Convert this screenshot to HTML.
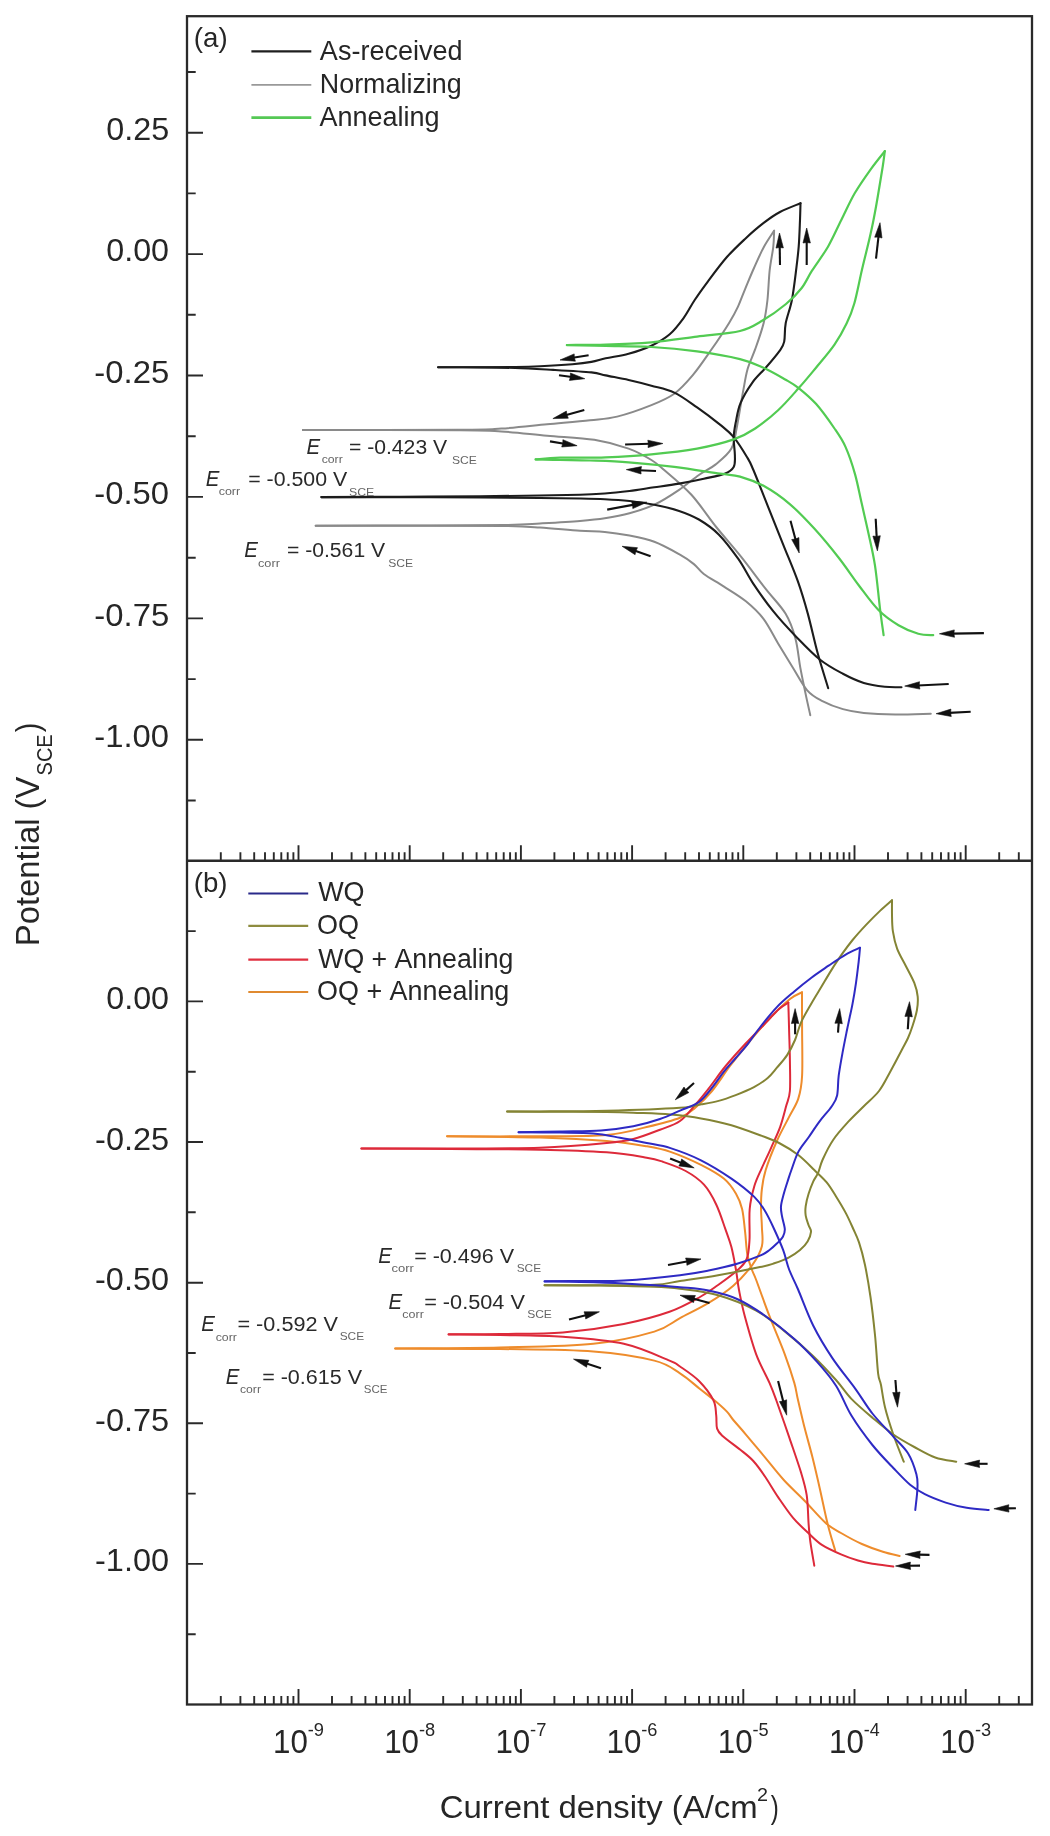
<!DOCTYPE html><html><head><meta charset="utf-8"><style>html,body{margin:0;padding:0;background:#fff;width:1050px;height:1836px;overflow:hidden}svg{display:block;will-change:transform}text{font-family:"Liberation Sans",sans-serif;font-kerning:none}</style></head><body>
<svg width="1050" height="1836" viewBox="0 0 1050 1836">
<path d="M930.8 713.7C924.9 713.8 906.4 714.5 895.2 714.4C884.0 714.3 872.5 713.8 863.8 712.9C855.1 712.0 849.9 711.1 842.9 709.1C835.9 707.1 827.8 703.9 821.9 700.8C816.0 697.7 812.1 695.9 807.2 690.3C802.3 684.7 797.5 675.0 792.6 667.2C787.8 659.4 783.0 651.5 778.1 643.4C773.2 635.3 768.7 625.6 763.3 618.6C757.9 611.6 752.5 606.7 745.9 601.3C739.3 595.9 730.6 590.9 723.6 586.4C716.6 581.9 708.8 577.7 703.8 574.0C698.8 570.3 698.0 567.4 693.9 564.1C689.8 560.8 685.7 557.9 679.1 554.2C672.5 550.5 662.6 544.9 654.3 541.8C646.0 538.7 637.8 537.2 629.5 535.6C621.2 534.0 613.0 532.7 604.8 531.9C596.5 531.1 590.8 531.4 580.0 530.7C569.2 530.0 552.6 528.3 540.0 527.5C527.4 526.7 524.3 526.3 504.3 526.0C484.3 525.7 451.4 525.8 420.0 525.8C388.6 525.8 333.1 525.7 315.7 525.7" stroke="#8a8a8a" stroke-width="2.0" fill="none" stroke-linejoin="round" stroke-linecap="round"/><path d="M315.7 525.7C333.1 525.7 388.6 525.6 420.0 525.5C451.4 525.4 484.3 525.3 504.3 525.0C524.3 524.7 527.4 524.2 540.0 523.5C552.6 522.8 569.2 521.9 580.0 521.0C590.8 520.1 596.5 519.6 604.8 518.3C613.0 517.0 621.2 515.6 629.5 513.3C637.8 511.0 646.0 508.6 654.3 504.7C662.6 500.8 671.7 494.8 679.1 489.8C686.5 484.9 692.9 479.2 698.9 475.0C704.9 470.8 710.0 469.0 715.4 464.6C720.8 460.2 727.8 455.1 731.4 448.6C735.0 442.1 735.2 435.1 737.1 425.7C739.0 416.2 741.2 401.3 743.0 391.9C744.8 382.4 745.6 376.1 747.6 369.0C749.6 361.9 752.5 356.8 755.2 349.2C757.9 341.6 761.6 331.4 763.6 323.3C765.6 315.2 766.4 309.4 767.4 300.5C768.4 291.6 768.7 279.0 769.7 270.0C770.7 261.0 772.6 253.2 773.3 246.7C774.0 240.1 774.0 233.4 774.1 230.7" stroke="#8a8a8a" stroke-width="2.0" fill="none" stroke-linejoin="round" stroke-linecap="round"/><path d="M774.1 230.7C772.4 233.4 767.4 240.5 764.0 246.7C760.6 252.9 757.2 260.9 754.0 268.0C750.8 275.1 747.7 282.9 745.0 289.3C742.3 295.7 740.6 301.0 738.0 306.6C735.4 312.2 733.6 315.6 729.1 322.9C724.6 330.2 717.0 341.6 710.9 350.3C704.8 359.1 698.7 368.2 692.6 375.4C686.5 382.6 681.2 388.8 674.3 393.7C667.4 398.6 660.9 401.3 651.4 405.1C641.9 408.9 627.3 414.1 617.1 416.6C606.9 419.1 601.7 419.0 590.0 420.3C578.3 421.6 561.9 422.9 547.1 424.3C532.3 425.7 515.9 427.7 501.4 428.6C486.9 429.5 493.1 429.6 460.0 429.8C426.9 430.0 329.1 430.0 302.9 430.0" stroke="#8a8a8a" stroke-width="2.0" fill="none" stroke-linejoin="round" stroke-linecap="round"/><path d="M302.9 430.0C329.1 430.0 426.9 430.0 460.0 430.2C493.1 430.4 486.9 430.5 501.4 431.4C515.9 432.3 531.6 434.3 547.1 435.7C562.6 437.1 580.7 437.6 594.3 439.8C607.9 442.0 619.1 445.2 628.6 448.6C638.1 452.0 645.5 456.4 651.4 460.0C657.3 463.6 657.5 464.2 664.2 470.0C670.9 475.8 682.7 485.3 691.4 494.8C700.1 504.3 707.9 516.7 716.2 527.0C724.5 537.3 732.8 546.4 741.0 556.7C749.2 567.0 758.3 579.4 765.7 588.9C773.1 598.4 780.5 605.4 785.5 613.6C790.5 621.9 792.9 629.3 795.4 638.4C797.9 647.5 798.7 659.0 800.4 668.1C802.1 677.2 803.8 685.0 805.4 692.9C807.0 700.8 809.5 711.5 810.3 715.2" stroke="#8a8a8a" stroke-width="2.0" fill="none" stroke-linejoin="round" stroke-linecap="round"/>
<path d="M901.5 687.2C898.7 687.1 891.1 687.5 884.8 686.8C878.5 686.1 870.8 685.2 863.8 683.0C856.8 680.8 850.2 677.7 842.9 673.8C835.6 669.9 827.7 665.8 819.8 659.5C811.9 653.2 803.2 643.9 795.4 635.9C787.6 627.9 780.2 619.9 773.2 611.2C766.2 602.5 759.2 592.6 753.4 583.9C747.6 575.2 744.3 567.5 738.5 559.2C732.7 551.0 725.3 541.0 718.7 534.4C712.1 527.8 705.5 523.4 698.9 519.5C692.3 515.6 686.5 513.4 679.1 510.9C671.7 508.4 662.6 506.3 654.3 504.7C646.0 503.1 637.8 501.9 629.5 501.0C621.2 500.1 613.0 499.6 604.8 499.2C596.5 498.8 590.8 498.7 580.0 498.5C569.2 498.3 556.7 498.2 540.0 498.0C523.3 497.8 503.3 497.6 480.0 497.5C456.7 497.4 426.4 497.3 400.0 497.2C373.6 497.1 334.5 497.1 321.4 497.1" stroke="#1c1c1c" stroke-width="2.1" fill="none" stroke-linejoin="round" stroke-linecap="round"/><path d="M321.4 497.1C334.5 497.1 373.6 496.9 400.0 496.8C426.4 496.7 456.7 496.5 480.0 496.3C503.3 496.1 523.3 495.8 540.0 495.5C556.7 495.2 569.2 495.1 580.0 494.8C590.8 494.5 596.5 494.1 604.8 493.5C613.0 492.9 621.2 492.0 629.5 491.0C637.8 490.0 646.0 488.5 654.3 487.3C662.6 486.1 670.9 485.0 679.1 483.6C687.4 482.2 696.2 480.4 703.8 478.7C711.4 477.0 719.6 475.7 724.6 473.7C729.6 471.7 732.0 469.9 733.7 466.9C735.4 463.8 734.9 460.4 734.9 455.4C734.9 450.4 733.5 442.8 733.7 437.1C733.9 431.4 734.9 426.8 736.0 421.1C737.1 415.4 737.9 409.3 740.6 402.9C743.3 396.5 748.0 388.7 752.2 382.8C756.4 376.9 761.3 372.8 765.9 367.5C770.5 362.2 776.5 355.1 779.6 350.8C782.7 346.5 783.2 346.2 784.2 341.6C785.2 337.0 784.4 330.2 785.7 323.3C787.0 316.4 790.1 309.2 791.8 300.5C793.5 291.8 794.9 280.0 796.0 271.0C797.1 262.0 798.0 255.2 798.7 246.7C799.4 238.2 799.7 227.2 800.0 220.0C800.3 212.8 800.4 206.0 800.5 203.2" stroke="#1c1c1c" stroke-width="2.1" fill="none" stroke-linejoin="round" stroke-linecap="round"/><path d="M800.5 203.2C797.1 204.7 786.1 208.8 780.0 212.0C773.9 215.2 769.8 218.2 764.0 222.7C758.2 227.1 751.5 232.9 745.3 238.7C739.1 244.5 732.9 250.2 726.7 257.3C720.5 264.4 713.3 274.2 708.0 281.3C702.7 288.4 698.8 293.8 694.7 300.0C690.6 306.2 687.6 312.6 683.4 318.3C679.2 324.0 675.0 329.7 669.7 334.3C664.4 338.9 658.2 342.5 651.4 345.7C644.5 348.9 636.2 351.6 628.6 353.7C621.0 355.8 611.9 356.9 605.7 358.3C599.5 359.7 597.0 360.9 591.4 361.9C585.8 362.9 581.0 363.5 572.4 364.2C563.8 364.9 549.5 365.8 540.0 366.3C530.5 366.8 525.2 366.9 515.2 367.0C505.2 367.1 492.9 367.2 480.0 367.2C467.1 367.2 445.1 367.2 438.1 367.2" stroke="#1c1c1c" stroke-width="2.1" fill="none" stroke-linejoin="round" stroke-linecap="round"/><path d="M438.1 367.2C445.1 367.2 467.1 367.3 480.0 367.4C492.9 367.5 503.0 367.6 515.2 368.0C527.4 368.4 540.6 369.2 553.3 369.9C566.0 370.6 582.7 371.5 591.4 372.4C600.1 373.3 599.5 374.1 605.7 375.4C611.9 376.7 621.0 378.3 628.6 380.0C636.2 381.7 643.8 383.6 651.4 385.7C659.0 387.8 666.7 389.0 674.3 392.6C681.9 396.2 689.5 402.1 697.1 407.4C704.7 412.7 713.9 419.7 720.0 424.6C726.1 429.6 729.1 431.6 733.7 437.1C738.3 442.6 744.1 452.2 747.4 457.7C750.7 463.2 749.9 461.8 753.4 470.0C756.9 478.2 763.2 494.7 768.2 507.1C773.2 519.5 778.2 531.9 783.1 544.3C788.0 556.7 793.8 569.8 797.9 581.4C802.0 593.0 804.5 601.6 807.8 613.6C811.1 625.6 814.3 640.9 817.7 653.3C821.1 665.7 826.5 682.4 828.2 688.2" stroke="#1c1c1c" stroke-width="2.1" fill="none" stroke-linejoin="round" stroke-linecap="round"/>
<path d="M933.2 635.1C930.7 634.9 924.1 635.4 918.3 633.8C912.5 632.1 905.1 629.1 898.5 625.2C891.9 621.3 885.3 616.9 878.7 610.3C872.1 603.7 865.5 594.2 858.9 585.5C852.3 576.8 846.5 567.8 839.1 558.3C831.7 548.8 822.6 537.7 814.3 528.6C806.0 519.5 797.8 510.8 789.5 503.8C781.2 496.8 773.0 491.0 764.8 486.5C756.5 482.0 747.5 478.7 740.0 476.6C732.5 474.5 731.0 475.3 720.0 473.7C709.0 472.1 689.5 468.8 674.3 466.9C659.1 465.0 642.6 463.4 628.6 462.3C614.6 461.2 601.4 460.9 590.0 460.5C578.6 460.1 569.0 460.2 560.0 460.0C551.0 459.8 539.8 459.5 535.7 459.4" stroke="#52cb52" stroke-width="2.2" fill="none" stroke-linejoin="round" stroke-linecap="round"/><path d="M535.7 459.4C539.8 459.1 548.3 458.0 560.0 457.7C571.7 457.4 590.5 457.9 605.7 457.3C620.9 456.7 636.2 455.8 651.4 454.3C666.6 452.9 683.4 451.1 697.1 448.6C710.8 446.1 724.0 442.8 733.7 439.4C743.4 436.0 747.8 433.4 755.2 428.5C762.6 423.6 770.9 416.9 778.1 410.2C785.4 403.5 792.4 395.2 798.7 388.1C805.1 381.0 810.2 374.7 816.2 367.5C822.2 360.3 829.4 352.1 834.5 344.7C839.6 337.3 843.4 330.2 846.7 323.3C850.0 316.4 851.8 312.4 854.3 303.5C856.8 294.6 859.2 281.7 861.9 270.0C864.6 258.3 868.4 243.9 870.7 233.3C873.1 222.8 874.0 217.8 876.0 206.7C878.0 195.6 881.2 175.9 882.7 166.7C884.2 157.4 884.4 153.8 884.8 151.2" stroke="#52cb52" stroke-width="2.2" fill="none" stroke-linejoin="round" stroke-linecap="round"/><path d="M884.8 151.2C882.4 154.2 875.7 162.3 870.7 169.3C865.7 176.3 859.6 184.9 854.7 193.3C849.8 201.8 845.8 211.1 841.3 220.0C836.8 228.9 832.9 238.2 828.0 246.7C823.1 255.1 816.4 263.8 812.0 270.7C807.6 277.6 805.8 282.8 801.5 288.3C797.2 293.9 792.4 298.7 786.0 304.0C779.6 309.3 770.6 315.8 762.9 320.3C755.2 324.8 751.0 328.3 740.0 331.0C729.0 333.7 711.9 334.7 697.1 336.6C682.3 338.5 666.6 341.0 651.4 342.3C636.2 343.6 619.8 344.2 605.7 344.6C591.6 345.1 573.4 344.9 566.9 345.0" stroke="#52cb52" stroke-width="2.2" fill="none" stroke-linejoin="round" stroke-linecap="round"/><path d="M566.9 345.2C573.4 345.3 591.6 345.6 605.7 345.9C619.8 346.2 636.2 346.1 651.4 347.0C666.6 347.9 682.3 349.4 697.1 351.4C711.9 353.4 729.0 356.4 740.0 359.1C751.0 361.8 755.3 364.1 762.9 367.5C770.5 370.9 779.7 376.3 785.7 379.7C791.7 383.1 793.6 384.0 798.7 388.1C803.8 392.2 810.2 397.4 816.2 404.1C822.2 410.8 829.6 421.4 834.5 428.5C839.4 435.6 842.1 439.3 845.5 446.9C848.9 454.5 852.3 464.6 855.0 474.1C857.7 483.6 859.5 493.9 861.8 503.8C864.0 513.7 866.3 523.2 868.5 533.5C870.7 543.8 873.1 553.3 875.0 565.7C876.9 578.1 878.5 596.2 879.9 607.8C881.3 619.4 883.0 630.5 883.6 635.1" stroke="#52cb52" stroke-width="2.2" fill="none" stroke-linejoin="round" stroke-linecap="round"/>
<path d="M899.6 1556.0C896.8 1555.3 889.2 1553.8 882.9 1551.8C876.6 1549.8 868.9 1547.1 861.9 1544.0C854.9 1540.9 847.0 1536.5 841.0 1533.0C835.0 1529.5 831.7 1528.3 825.7 1523.0C819.7 1517.7 811.8 1508.2 804.8 1501.0C797.8 1493.8 790.5 1487.3 783.8 1480.0C777.1 1472.7 771.1 1464.7 764.8 1457.1C758.4 1449.5 751.0 1440.5 745.7 1434.3C740.5 1428.1 736.5 1423.8 733.3 1420.0C730.1 1416.2 729.9 1414.7 726.7 1411.4C723.5 1408.1 718.5 1403.7 714.0 1400.0C709.5 1396.3 705.7 1393.5 700.0 1389.0C694.3 1384.5 687.6 1378.0 680.0 1373.3C672.4 1368.6 668.8 1364.2 654.3 1360.6C639.8 1356.9 619.0 1353.3 593.3 1351.4C567.6 1349.5 533.0 1349.5 500.0 1349.0C467.0 1348.5 412.7 1348.7 395.2 1348.6" stroke="#ee8c2c" stroke-width="2.0" fill="none" stroke-linejoin="round" stroke-linecap="round"/><path d="M395.2 1348.4C412.7 1348.2 467.0 1348.3 500.0 1347.5C533.0 1346.7 567.6 1346.5 593.3 1343.8C619.0 1341.1 639.8 1335.9 654.3 1331.6C668.8 1327.3 671.0 1322.9 680.0 1318.1C689.0 1313.3 699.7 1308.3 708.6 1302.9C717.5 1297.5 726.0 1292.1 733.3 1285.7C740.6 1279.3 747.6 1271.4 752.4 1264.8C757.2 1258.2 760.3 1252.5 761.9 1246.2C763.5 1239.9 762.0 1233.4 761.9 1227.1C761.8 1220.8 761.0 1214.4 761.0 1208.1C761.0 1201.8 761.1 1195.3 761.9 1189.0C762.7 1182.7 763.2 1178.1 765.7 1170.0C768.2 1161.9 773.2 1149.3 777.1 1140.5C781.0 1131.7 785.6 1123.9 789.1 1116.9C792.6 1109.9 796.1 1105.5 798.3 1098.6C800.5 1091.7 801.5 1087.1 802.1 1075.7C802.7 1064.3 802.1 1041.0 802.1 1030.0C802.1 1019.0 802.0 1016.3 802.0 1010.0C802.0 1003.7 802.0 995.2 802.0 992.3" stroke="#ee8c2c" stroke-width="2.0" fill="none" stroke-linejoin="round" stroke-linecap="round"/><path d="M802.0 992.3C800.0 993.4 795.3 994.7 790.0 999.0C784.7 1003.3 776.7 1011.0 770.0 1018.0C763.3 1025.0 756.7 1033.0 750.0 1041.0C743.3 1049.0 736.3 1057.7 730.0 1066.0C723.7 1074.3 717.8 1084.0 712.0 1091.0C706.2 1098.0 700.3 1103.5 695.0 1108.0C689.7 1112.5 688.0 1114.5 680.0 1117.7C672.0 1120.9 658.9 1124.1 646.7 1127.0C634.5 1129.9 624.5 1133.5 606.7 1135.0C588.9 1136.5 566.6 1136.1 540.0 1136.3C513.4 1136.5 462.6 1136.3 447.1 1136.3" stroke="#ee8c2c" stroke-width="2.0" fill="none" stroke-linejoin="round" stroke-linecap="round"/><path d="M447.1 1136.3C462.6 1136.5 513.4 1136.7 540.0 1137.5C566.6 1138.3 588.9 1139.5 606.7 1141.0C624.5 1142.5 636.1 1144.5 646.7 1146.3C657.3 1148.1 661.5 1148.8 670.5 1151.9C679.5 1155.0 692.1 1160.5 701.0 1164.9C709.9 1169.4 718.0 1173.8 723.8 1178.6C729.6 1183.4 733.0 1188.7 736.0 1193.8C739.0 1198.9 740.6 1202.7 742.1 1209.0C743.6 1215.3 744.2 1224.3 745.1 1231.9C746.0 1239.5 746.2 1248.5 747.4 1254.8C748.5 1261.1 750.5 1265.8 752.0 1270.0C753.5 1274.2 753.3 1272.3 756.2 1280.0C759.1 1287.7 764.7 1303.8 769.5 1316.2C774.3 1328.6 780.7 1343.2 784.8 1354.3C788.9 1365.4 792.1 1375.3 794.3 1382.9C796.5 1390.5 796.2 1392.4 798.0 1400.0C799.8 1407.6 802.4 1419.1 804.8 1428.6C807.2 1438.1 809.9 1446.9 812.4 1457.1C814.9 1467.2 817.5 1478.4 820.0 1489.5C822.5 1500.6 825.1 1513.6 827.6 1523.8C830.1 1534.0 833.9 1546.0 835.2 1550.5" stroke="#ee8c2c" stroke-width="2.0" fill="none" stroke-linejoin="round" stroke-linecap="round"/>
<path d="M893.3 1566.5C889.8 1566.0 878.3 1564.8 872.4 1563.8C866.5 1562.8 863.2 1562.1 858.0 1560.5C852.8 1558.9 847.0 1556.9 841.0 1554.3C835.0 1551.7 827.3 1548.3 821.9 1544.8C816.5 1541.3 813.4 1537.8 808.6 1533.3C803.8 1528.8 798.4 1524.1 793.3 1518.1C788.2 1512.1 782.9 1504.1 778.1 1497.1C773.4 1490.1 768.9 1482.2 764.8 1476.2C760.7 1470.2 757.4 1465.5 753.3 1461.0C749.2 1456.5 745.1 1453.6 740.0 1449.5C734.9 1445.4 726.7 1439.7 722.9 1436.2C719.1 1432.7 718.2 1432.1 717.1 1428.6C716.0 1425.1 716.8 1420.0 716.2 1415.2C715.6 1410.4 716.2 1405.7 713.3 1400.0C710.4 1394.3 704.5 1386.6 699.0 1381.0C693.5 1375.4 684.9 1369.9 680.0 1366.5C675.1 1363.1 678.9 1364.4 669.5 1360.6C660.1 1356.8 641.6 1347.8 623.8 1343.8C606.0 1339.8 583.5 1338.3 562.9 1336.8C542.3 1335.3 519.0 1335.4 500.0 1335.0C480.9 1334.6 457.2 1334.6 448.6 1334.5" stroke="#dd2a3a" stroke-width="2.0" fill="none" stroke-linejoin="round" stroke-linecap="round"/><path d="M448.6 1334.3C457.2 1334.2 480.9 1334.3 500.0 1334.0C519.0 1333.7 542.3 1334.2 562.9 1332.5C583.5 1330.8 606.0 1327.5 623.8 1324.0C641.6 1320.5 656.8 1316.3 669.5 1311.8C682.2 1307.3 691.9 1301.5 700.0 1297.0C708.1 1292.5 711.9 1289.4 718.1 1285.0C724.3 1280.6 732.3 1274.8 737.1 1270.5C741.9 1266.2 744.6 1264.1 746.7 1259.0C748.8 1253.9 749.0 1248.3 749.5 1240.0C750.0 1231.7 748.9 1218.0 749.7 1209.0C750.5 1200.0 752.3 1193.0 754.3 1186.2C756.3 1179.4 759.1 1174.2 761.9 1167.9C764.7 1161.6 768.0 1154.9 771.0 1148.1C774.0 1141.2 777.7 1133.8 780.2 1126.8C782.7 1119.8 784.5 1112.2 786.1 1106.2C787.7 1100.2 789.3 1098.6 789.9 1091.0C790.5 1083.4 790.0 1070.7 789.9 1060.5C789.8 1050.3 789.3 1038.1 789.1 1030.0C788.9 1021.9 788.7 1016.6 788.6 1012.0C788.5 1007.4 788.3 1004.2 788.3 1002.6" stroke="#dd2a3a" stroke-width="2.0" fill="none" stroke-linejoin="round" stroke-linecap="round"/><path d="M788.3 1002.6C786.8 1003.7 782.8 1005.6 779.0 1009.0C775.2 1012.4 771.2 1017.1 765.7 1022.9C760.2 1028.7 752.4 1036.3 745.7 1043.5C739.0 1050.7 731.9 1058.5 725.7 1066.0C719.5 1073.5 713.6 1082.3 708.6 1088.6C703.6 1094.9 700.8 1098.6 696.0 1104.0C691.2 1109.4 686.0 1116.7 680.0 1121.0C674.0 1125.3 667.8 1126.7 660.0 1129.7C652.2 1132.7 642.2 1136.8 633.3 1139.0C624.4 1141.2 622.2 1141.5 606.7 1143.0C591.2 1144.5 566.1 1146.8 540.0 1147.7C513.9 1148.6 479.8 1148.3 450.0 1148.5C420.2 1148.7 376.2 1148.6 361.4 1148.6" stroke="#dd2a3a" stroke-width="2.0" fill="none" stroke-linejoin="round" stroke-linecap="round"/><path d="M361.4 1148.6C376.2 1148.7 420.2 1148.8 450.0 1149.0C479.8 1149.2 513.9 1149.2 540.0 1149.7C566.1 1150.2 588.9 1151.0 606.7 1152.3C624.5 1153.6 637.3 1156.1 646.7 1157.7C656.1 1159.3 656.4 1159.6 662.9 1161.8C669.4 1164.0 678.9 1167.2 685.7 1171.0C692.6 1174.8 698.9 1179.1 704.0 1184.7C709.1 1190.3 712.7 1197.1 716.2 1204.5C719.8 1211.9 722.8 1221.8 725.3 1228.9C727.8 1236.0 729.6 1240.2 731.4 1247.1C733.2 1253.9 734.7 1262.8 736.0 1270.0C737.3 1277.2 737.5 1282.3 739.0 1290.0C740.5 1297.7 741.9 1305.5 744.8 1316.2C747.7 1326.9 752.1 1343.2 756.2 1354.3C760.3 1365.4 766.2 1375.3 769.5 1382.9C772.8 1390.5 772.9 1390.8 776.2 1400.0C779.5 1409.2 785.4 1426.0 789.5 1438.1C793.6 1450.2 798.1 1462.9 801.0 1472.4C803.9 1481.9 805.4 1486.6 806.7 1495.2C808.0 1503.8 808.0 1515.8 808.6 1523.8C809.2 1531.8 809.5 1535.9 810.5 1542.9C811.5 1549.9 813.7 1561.9 814.3 1565.7" stroke="#dd2a3a" stroke-width="2.0" fill="none" stroke-linejoin="round" stroke-linecap="round"/>
<path d="M956.2 1461.7C952.7 1461.0 942.2 1460.0 935.2 1457.5C928.2 1455.0 921.3 1450.8 914.3 1447.0C907.3 1443.2 900.3 1439.4 893.3 1434.5C886.3 1429.6 879.4 1423.6 872.4 1417.7C865.4 1411.8 857.5 1405.2 851.4 1398.9C845.3 1392.6 842.4 1387.1 836.0 1380.0C829.6 1372.9 821.8 1364.3 813.3 1356.2C804.8 1348.1 794.3 1339.0 784.8 1331.4C775.3 1323.8 767.3 1316.5 756.2 1310.5C745.1 1304.5 730.8 1298.8 718.1 1295.2C705.4 1291.6 690.6 1290.2 680.0 1288.8C669.4 1287.4 667.6 1287.3 654.3 1286.8C641.0 1286.3 618.3 1285.9 600.0 1285.6C581.7 1285.3 553.8 1285.3 544.6 1285.2" stroke="#848434" stroke-width="2.0" fill="none" stroke-linejoin="round" stroke-linecap="round"/><path d="M544.6 1285.2C553.8 1285.2 581.7 1285.3 600.0 1285.2C618.3 1285.1 641.0 1285.5 654.3 1284.8C667.6 1284.1 669.4 1282.6 680.0 1281.0C690.6 1279.4 704.8 1277.5 718.1 1275.2C731.4 1272.9 750.6 1269.1 760.0 1267.1C769.4 1265.1 769.5 1264.9 774.3 1263.3C779.1 1261.7 784.3 1259.8 788.6 1257.6C792.9 1255.4 796.8 1252.7 800.0 1250.0C803.2 1247.3 805.8 1244.4 807.6 1241.4C809.4 1238.4 810.8 1234.6 811.0 1231.9C811.2 1229.2 809.5 1227.9 808.6 1225.2C807.7 1222.5 806.2 1218.9 805.7 1215.7C805.2 1212.5 805.2 1209.9 805.7 1206.2C806.2 1202.5 807.3 1197.9 808.6 1193.8C809.9 1189.7 811.7 1184.9 813.3 1181.4C814.9 1177.9 816.5 1176.6 818.1 1172.9C819.7 1169.2 820.2 1165.0 822.7 1159.5C825.2 1154.0 829.0 1146.0 833.3 1139.7C837.6 1133.4 843.5 1127.0 848.6 1121.4C853.7 1115.8 858.7 1111.3 863.8 1106.2C868.9 1101.1 874.7 1096.6 879.0 1091.0C883.3 1085.4 885.9 1079.6 889.7 1072.7C893.5 1065.8 898.9 1055.6 901.9 1049.8C904.9 1044.0 906.2 1042.0 908.0 1038.0C909.8 1034.0 911.1 1030.3 912.6 1025.7C914.1 1021.1 916.0 1015.1 916.9 1010.3C917.8 1005.4 918.1 1001.2 917.7 996.6C917.3 992.0 916.3 988.0 914.3 982.9C912.3 977.8 908.6 971.4 905.7 965.7C902.8 960.0 899.2 954.3 897.1 948.6C895.0 942.9 893.8 937.1 892.9 931.4C892.0 925.7 892.1 919.5 892.0 914.3C891.9 909.1 892.0 902.6 892.0 900.2" stroke="#848434" stroke-width="2.0" fill="none" stroke-linejoin="round" stroke-linecap="round"/><path d="M892.0 900.2C890.0 902.0 884.3 906.8 880.0 910.9C875.7 915.0 870.9 919.8 866.3 924.6C861.7 929.5 856.6 935.1 852.6 940.0C848.6 944.9 845.7 948.9 842.3 953.7C838.9 958.6 835.4 963.7 832.0 969.1C828.6 974.5 825.1 980.6 821.7 986.3C818.3 992.0 814.8 997.4 811.4 1003.4C808.0 1009.4 803.8 1016.2 801.1 1022.3C798.4 1028.4 797.3 1034.5 795.0 1040.0C792.7 1045.5 790.1 1050.5 787.1 1055.1C784.1 1059.7 780.1 1063.9 776.9 1067.7C773.7 1071.5 771.5 1074.8 767.7 1078.0C763.9 1081.2 759.3 1084.2 754.0 1087.1C748.7 1089.9 741.6 1092.8 735.7 1095.1C729.8 1097.4 724.3 1099.4 718.6 1100.9C712.9 1102.4 707.8 1103.2 701.4 1104.3C695.0 1105.4 695.8 1106.6 680.0 1107.7C664.2 1108.8 630.0 1110.1 606.7 1110.7C583.4 1111.3 556.6 1111.3 540.0 1111.4C523.4 1111.5 512.6 1111.4 507.1 1111.4" stroke="#848434" stroke-width="2.0" fill="none" stroke-linejoin="round" stroke-linecap="round"/><path d="M507.1 1111.4C512.6 1111.5 523.4 1111.7 540.0 1111.8C556.6 1111.9 590.0 1111.8 606.7 1112.0C623.4 1112.2 629.4 1112.6 640.0 1113.0C650.6 1113.4 660.3 1113.7 670.5 1114.6C680.7 1115.5 690.9 1116.6 701.0 1118.4C711.1 1120.2 721.2 1122.3 731.4 1125.2C741.5 1128.1 753.8 1132.9 761.9 1135.9C770.0 1139.0 773.9 1140.3 780.0 1143.5C786.1 1146.7 792.6 1150.6 798.3 1155.0C804.0 1159.4 809.6 1165.4 814.3 1170.0C819.0 1174.6 823.1 1178.0 826.7 1182.4C830.4 1186.9 833.0 1191.6 836.2 1196.7C839.4 1201.8 842.9 1207.5 845.7 1212.9C848.6 1218.3 851.1 1224.1 853.3 1229.0C855.5 1233.9 857.0 1236.4 859.0 1242.4C861.0 1248.4 863.1 1255.9 865.0 1265.0C866.9 1274.1 868.8 1285.3 870.5 1297.0C872.2 1308.7 873.7 1322.3 875.0 1335.0C876.3 1347.7 877.1 1365.0 878.1 1373.3C879.1 1381.6 879.9 1379.3 881.0 1385.0C882.1 1390.7 883.0 1399.0 885.0 1407.2C887.0 1415.5 890.2 1425.4 893.3 1434.5C896.4 1443.6 902.0 1457.2 903.8 1461.7" stroke="#848434" stroke-width="2.0" fill="none" stroke-linejoin="round" stroke-linecap="round"/>
<path d="M988.7 1509.9C985.0 1509.6 973.9 1509.0 966.7 1507.8C959.5 1506.6 952.7 1504.9 945.7 1502.6C938.7 1500.3 930.7 1497.2 924.8 1494.2C918.9 1491.2 915.4 1489.2 910.1 1484.8C904.9 1480.4 899.6 1474.6 893.3 1468.0C887.0 1461.4 879.4 1453.7 872.4 1445.0C865.4 1436.3 857.4 1425.4 851.4 1415.6C845.4 1405.8 841.9 1395.0 836.2 1386.0C830.5 1377.0 824.1 1369.7 817.1 1361.9C810.1 1354.1 802.9 1346.6 794.3 1339.0C785.7 1331.4 775.2 1322.9 765.7 1316.2C756.2 1309.5 746.6 1303.3 737.1 1299.0C727.6 1294.7 718.1 1292.5 708.6 1290.5C699.1 1288.5 694.1 1288.4 680.0 1287.2C665.9 1286.0 640.5 1284.4 623.8 1283.5C607.1 1282.6 593.2 1282.3 580.0 1282.0C566.8 1281.7 550.5 1281.6 544.6 1281.5" stroke="#2e2ac4" stroke-width="2.0" fill="none" stroke-linejoin="round" stroke-linecap="round"/><path d="M544.6 1281.3C550.5 1281.2 566.8 1281.1 580.0 1281.0C593.2 1280.9 607.1 1281.5 623.8 1280.5C640.5 1279.5 665.9 1276.9 680.0 1275.2C694.1 1273.5 699.1 1272.4 708.6 1270.5C718.1 1268.6 728.5 1266.3 737.1 1263.8C745.7 1261.3 754.6 1258.0 760.0 1255.7C765.4 1253.4 766.6 1252.1 769.5 1250.0C772.4 1247.9 774.9 1245.5 777.1 1243.3C779.3 1241.1 781.6 1239.1 782.9 1236.7C784.2 1234.3 785.0 1232.5 784.8 1229.0C784.6 1225.5 782.5 1219.5 781.9 1215.7C781.3 1211.9 780.7 1209.9 781.0 1206.2C781.3 1202.5 782.7 1197.9 783.8 1193.8C784.9 1189.7 786.3 1185.4 787.6 1181.4C788.9 1177.4 789.6 1174.9 791.4 1170.0C793.2 1165.1 795.4 1157.5 798.3 1151.9C801.2 1146.4 805.5 1141.8 809.0 1136.7C812.5 1131.6 815.8 1126.5 819.6 1121.4C823.4 1116.3 828.9 1110.5 831.8 1106.2C834.7 1101.9 836.0 1100.6 837.1 1095.5C838.2 1090.4 837.8 1082.8 838.7 1075.7C839.6 1068.6 841.1 1060.5 842.5 1052.9C843.9 1045.3 845.9 1035.5 847.0 1030.0C848.1 1024.5 848.2 1024.4 849.1 1020.0C850.0 1015.6 851.5 1009.6 852.6 1003.4C853.8 997.2 855.0 989.8 856.0 982.9C857.0 976.0 857.9 968.2 858.6 962.3C859.3 956.4 859.8 950.1 860.0 947.7" stroke="#2e2ac4" stroke-width="2.0" fill="none" stroke-linejoin="round" stroke-linecap="round"/><path d="M860.0 947.7C857.6 948.9 850.9 951.6 845.7 954.6C840.5 957.6 834.3 961.9 828.6 965.7C822.9 969.6 817.1 973.4 811.4 977.7C805.7 982.0 800.0 986.5 794.3 991.4C788.6 996.3 782.6 1001.1 777.1 1006.9C771.6 1012.7 766.0 1019.7 761.0 1026.0C756.0 1032.3 751.3 1039.6 747.1 1044.9C742.9 1050.2 739.5 1053.6 735.7 1058.0C731.9 1062.4 728.1 1066.3 724.3 1071.1C720.5 1075.8 717.2 1081.3 713.0 1086.5C708.8 1091.7 704.4 1098.0 699.0 1102.0C693.6 1106.0 687.1 1107.5 680.6 1110.3C674.1 1113.1 667.9 1116.3 660.0 1119.0C652.1 1121.7 643.1 1124.4 633.3 1126.3C623.5 1128.2 613.2 1129.6 601.0 1130.5C588.8 1131.4 573.7 1131.2 560.0 1131.5C546.3 1131.8 525.5 1132.2 518.6 1132.3" stroke="#2e2ac4" stroke-width="2.0" fill="none" stroke-linejoin="round" stroke-linecap="round"/><path d="M518.6 1132.3C525.5 1132.3 547.5 1132.4 560.0 1132.6C572.5 1132.8 583.3 1132.7 593.3 1133.5C603.3 1134.3 611.1 1136.1 620.0 1137.7C628.9 1139.3 638.3 1141.3 646.7 1143.0C655.1 1144.7 661.5 1145.2 670.5 1148.1C679.5 1151.0 690.9 1155.2 701.0 1160.3C711.1 1165.4 722.5 1172.5 731.4 1178.6C740.3 1184.7 748.7 1191.5 754.3 1196.9C759.9 1202.3 761.7 1205.7 765.0 1211.0C768.3 1216.3 771.1 1222.5 774.1 1229.0C777.1 1235.5 780.7 1243.4 783.2 1250.2C785.7 1257.0 786.8 1263.5 789.3 1270.0C791.8 1276.5 794.1 1280.2 798.1 1289.5C802.1 1298.8 807.6 1314.3 813.3 1325.7C819.0 1337.1 825.4 1347.6 832.4 1358.1C839.4 1368.6 848.5 1379.4 855.2 1388.6C861.9 1397.8 866.0 1405.5 872.4 1413.5C878.8 1421.5 887.4 1430.0 893.3 1436.6C899.2 1443.2 904.1 1447.0 908.0 1453.3C911.9 1459.6 914.8 1468.4 916.4 1474.3C918.0 1480.2 917.6 1483.0 917.4 1488.9C917.2 1494.8 915.6 1506.4 915.3 1509.9" stroke="#2e2ac4" stroke-width="2.0" fill="none" stroke-linejoin="round" stroke-linecap="round"/>
<line x1="584.3" y1="410.0" x2="565.4" y2="415.2" stroke="#111" stroke-width="2.1"/><path d="M552.9 418.6L566.4 411.1L566.9 414.8L568.3 418.2Z" fill="#111" stroke="#111" stroke-width="0.6" stroke-linejoin="round"/>
<line x1="550.0" y1="441.4" x2="564.3" y2="443.7" stroke="#111" stroke-width="2.1"/><path d="M577.1 445.7L561.7 447.0L562.8 443.4L562.9 439.7Z" fill="#111" stroke="#111" stroke-width="0.6" stroke-linejoin="round"/>
<line x1="588.6" y1="355.2" x2="572.8" y2="357.8" stroke="#111" stroke-width="2.1"/><path d="M560.0 360.0L574.2 353.9L574.3 357.6L575.4 361.2Z" fill="#111" stroke="#111" stroke-width="0.6" stroke-linejoin="round"/>
<line x1="559.0" y1="375.2" x2="571.9" y2="377.0" stroke="#111" stroke-width="2.1"/><path d="M584.8 378.7L569.4 380.4L570.4 376.8L570.4 373.0Z" fill="#111" stroke="#111" stroke-width="0.6" stroke-linejoin="round"/>
<line x1="625.1" y1="444.5" x2="649.9" y2="443.8" stroke="#111" stroke-width="2.1"/><path d="M662.9 443.5L648.0 447.6L648.4 443.9L647.8 440.2Z" fill="#111" stroke="#111" stroke-width="0.6" stroke-linejoin="round"/>
<line x1="656.0" y1="471.0" x2="639.3" y2="470.2" stroke="#111" stroke-width="2.1"/><path d="M626.3 469.6L641.5 466.6L640.8 470.3L641.1 474.0Z" fill="#111" stroke="#111" stroke-width="0.6" stroke-linejoin="round"/>
<line x1="607.2" y1="509.6" x2="634.1" y2="504.6" stroke="#111" stroke-width="2.1"/><path d="M646.9 502.2L632.8 508.6L632.6 504.9L631.5 501.3Z" fill="#111" stroke="#111" stroke-width="0.6" stroke-linejoin="round"/>
<line x1="650.6" y1="556.2" x2="634.4" y2="550.6" stroke="#111" stroke-width="2.1"/><path d="M622.1 546.3L637.5 547.7L635.8 551.1L635.1 554.7Z" fill="#111" stroke="#111" stroke-width="0.6" stroke-linejoin="round"/>
<line x1="790.5" y1="520.8" x2="795.8" y2="540.5" stroke="#111" stroke-width="2.1"/><path d="M799.2 553.0L791.7 539.5L795.4 539.0L798.9 537.6Z" fill="#111" stroke="#111" stroke-width="0.6" stroke-linejoin="round"/>
<line x1="875.7" y1="518.7" x2="876.7" y2="537.9" stroke="#111" stroke-width="2.1"/><path d="M877.4 550.9L872.9 536.1L876.6 536.4L880.3 535.7Z" fill="#111" stroke="#111" stroke-width="0.6" stroke-linejoin="round"/>
<line x1="983.9" y1="633.1" x2="952.4" y2="633.6" stroke="#111" stroke-width="2.1"/><path d="M939.4 633.8L954.3 629.9L953.9 633.6L954.5 637.3Z" fill="#111" stroke="#111" stroke-width="0.6" stroke-linejoin="round"/>
<line x1="948.7" y1="684.0" x2="917.7" y2="685.5" stroke="#111" stroke-width="2.1"/><path d="M904.7 686.1L919.5 681.7L919.2 685.4L919.9 689.1Z" fill="#111" stroke="#111" stroke-width="0.6" stroke-linejoin="round"/>
<line x1="970.7" y1="711.7" x2="949.1" y2="712.9" stroke="#111" stroke-width="2.1"/><path d="M936.1 713.7L950.9 709.1L950.6 712.9L951.3 716.5Z" fill="#111" stroke="#111" stroke-width="0.6" stroke-linejoin="round"/>
<line x1="780.0" y1="265.0" x2="779.7" y2="246.0" stroke="#111" stroke-width="2.1"/><path d="M779.5 233.0L783.4 247.9L779.7 247.5L776.0 248.1Z" fill="#111" stroke="#111" stroke-width="0.6" stroke-linejoin="round"/>
<line x1="806.7" y1="265.0" x2="806.7" y2="241.0" stroke="#111" stroke-width="2.1"/><path d="M806.7 228.0L810.4 243.0L806.7 242.5L803.0 243.0Z" fill="#111" stroke="#111" stroke-width="0.6" stroke-linejoin="round"/>
<line x1="876.0" y1="258.7" x2="878.6" y2="235.6" stroke="#111" stroke-width="2.1"/><path d="M880.0 222.7L882.0 238.0L878.4 237.1L874.7 237.2Z" fill="#111" stroke="#111" stroke-width="0.6" stroke-linejoin="round"/>
<line x1="694.0" y1="1083.0" x2="685.0" y2="1091.1" stroke="#111" stroke-width="2.1"/><path d="M675.3 1099.8L684.0 1087.0L686.1 1090.1L688.9 1092.5Z" fill="#111" stroke="#111" stroke-width="0.6" stroke-linejoin="round"/>
<line x1="795.1" y1="1034.3" x2="795.1" y2="1021.6" stroke="#111" stroke-width="2.1"/><path d="M795.1 1008.6L798.8 1023.6L795.1 1023.1L791.4 1023.6Z" fill="#111" stroke="#111" stroke-width="0.6" stroke-linejoin="round"/>
<line x1="838.0" y1="1032.6" x2="838.8" y2="1021.6" stroke="#111" stroke-width="2.1"/><path d="M839.7 1008.6L842.3 1023.8L838.7 1023.1L834.9 1023.3Z" fill="#111" stroke="#111" stroke-width="0.6" stroke-linejoin="round"/>
<line x1="907.8" y1="1029.2" x2="908.7" y2="1014.7" stroke="#111" stroke-width="2.1"/><path d="M909.5 1001.7L912.3 1016.9L908.6 1016.2L904.9 1016.4Z" fill="#111" stroke="#111" stroke-width="0.6" stroke-linejoin="round"/>
<line x1="670.1" y1="1158.5" x2="682.1" y2="1163.2" stroke="#111" stroke-width="2.1"/><path d="M694.2 1167.9L678.9 1165.9L680.7 1162.6L681.6 1159.0Z" fill="#111" stroke="#111" stroke-width="0.6" stroke-linejoin="round"/>
<line x1="668.0" y1="1265.0" x2="688.2" y2="1261.3" stroke="#111" stroke-width="2.1"/><path d="M701.0 1259.0L686.9 1265.3L686.7 1261.6L685.6 1258.0Z" fill="#111" stroke="#111" stroke-width="0.6" stroke-linejoin="round"/>
<line x1="709.5" y1="1303.0" x2="692.6" y2="1298.5" stroke="#111" stroke-width="2.1"/><path d="M680.0 1295.2L695.4 1295.5L694.0 1298.9L693.6 1302.6Z" fill="#111" stroke="#111" stroke-width="0.6" stroke-linejoin="round"/>
<line x1="569.0" y1="1319.4" x2="586.8" y2="1315.0" stroke="#111" stroke-width="2.1"/><path d="M599.4 1311.8L585.7 1319.0L585.3 1315.3L584.0 1311.8Z" fill="#111" stroke="#111" stroke-width="0.6" stroke-linejoin="round"/>
<line x1="601.0" y1="1368.2" x2="585.8" y2="1363.2" stroke="#111" stroke-width="2.1"/><path d="M573.5 1359.1L588.9 1360.3L587.3 1363.7L586.6 1367.3Z" fill="#111" stroke="#111" stroke-width="0.6" stroke-linejoin="round"/>
<line x1="778.1" y1="1381.0" x2="783.5" y2="1402.6" stroke="#111" stroke-width="2.1"/><path d="M786.7 1415.2L779.5 1401.6L783.2 1401.1L786.6 1399.8Z" fill="#111" stroke="#111" stroke-width="0.6" stroke-linejoin="round"/>
<line x1="895.4" y1="1380.0" x2="896.5" y2="1394.2" stroke="#111" stroke-width="2.1"/><path d="M897.5 1407.2L892.7 1392.5L896.4 1392.7L900.0 1392.0Z" fill="#111" stroke="#111" stroke-width="0.6" stroke-linejoin="round"/>
<line x1="987.6" y1="1463.8" x2="977.6" y2="1463.8" stroke="#111" stroke-width="2.1"/><path d="M964.6 1463.8L979.6 1460.1L979.1 1463.8L979.6 1467.5Z" fill="#111" stroke="#111" stroke-width="0.6" stroke-linejoin="round"/>
<line x1="1015.9" y1="1508.2" x2="1006.9" y2="1508.4" stroke="#111" stroke-width="2.1"/><path d="M993.9 1508.8L1008.8 1504.7L1008.4 1508.4L1009.0 1512.1Z" fill="#111" stroke="#111" stroke-width="0.6" stroke-linejoin="round"/>
<line x1="929.5" y1="1554.9" x2="918.2" y2="1554.6" stroke="#111" stroke-width="2.1"/><path d="M905.2 1554.3L920.3 1551.0L919.7 1554.7L920.1 1558.4Z" fill="#111" stroke="#111" stroke-width="0.6" stroke-linejoin="round"/>
<line x1="920.0" y1="1565.6" x2="908.5" y2="1565.8" stroke="#111" stroke-width="2.1"/><path d="M895.5 1566.0L910.4 1562.1L910.0 1565.8L910.6 1569.5Z" fill="#111" stroke="#111" stroke-width="0.6" stroke-linejoin="round"/>
<g stroke="#2a2a2a" fill="none" stroke-width="2.3">
<rect x="187" y="16.2" width="845" height="1688.3"/>
<line x1="187" y1="860.8" x2="1032" y2="860.8" stroke-width="2.4"/>
</g>
<g stroke="#2a2a2a" stroke-width="1.9" fill="none">
<path d="M220.8 860.8V852.3 M240.4 860.8V852.3 M254.2 860.8V852.3 M265.0 860.8V852.3 M273.8 860.8V852.3 M281.3 860.8V852.3 M287.7 860.8V852.3 M293.4 860.8V852.3 M298.5 860.8V845.3 M332.0 860.8V852.3 M351.6 860.8V852.3 M365.4 860.8V852.3 M376.2 860.8V852.3 M385.0 860.8V852.3 M392.5 860.8V852.3 M398.9 860.8V852.3 M404.6 860.8V852.3 M409.7 860.8V845.3 M443.2 860.8V852.3 M462.8 860.8V852.3 M476.6 860.8V852.3 M487.4 860.8V852.3 M496.2 860.8V852.3 M503.7 860.8V852.3 M510.1 860.8V852.3 M515.8 860.8V852.3 M520.9 860.8V845.3 M554.4 860.8V852.3 M574.0 860.8V852.3 M587.8 860.8V852.3 M598.6 860.8V852.3 M607.4 860.8V852.3 M614.9 860.8V852.3 M621.3 860.8V852.3 M627.0 860.8V852.3 M632.1 860.8V845.3 M665.6 860.8V852.3 M685.2 860.8V852.3 M699.0 860.8V852.3 M709.8 860.8V852.3 M718.6 860.8V852.3 M726.1 860.8V852.3 M732.5 860.8V852.3 M738.2 860.8V852.3 M743.3 860.8V845.3 M776.8 860.8V852.3 M796.4 860.8V852.3 M810.2 860.8V852.3 M821.0 860.8V852.3 M829.8 860.8V852.3 M837.3 860.8V852.3 M843.7 860.8V852.3 M849.4 860.8V852.3 M854.5 860.8V845.3 M888.0 860.8V852.3 M907.6 860.8V852.3 M921.4 860.8V852.3 M932.2 860.8V852.3 M941.0 860.8V852.3 M948.5 860.8V852.3 M954.9 860.8V852.3 M960.6 860.8V852.3 M965.7 860.8V845.3 M999.2 860.8V852.3 M1018.8 860.8V852.3 M220.8 1704.5V1696.0 M240.4 1704.5V1696.0 M254.2 1704.5V1696.0 M265.0 1704.5V1696.0 M273.8 1704.5V1696.0 M281.3 1704.5V1696.0 M287.7 1704.5V1696.0 M293.4 1704.5V1696.0 M298.5 1704.5V1689.0 M332.0 1704.5V1696.0 M351.6 1704.5V1696.0 M365.4 1704.5V1696.0 M376.2 1704.5V1696.0 M385.0 1704.5V1696.0 M392.5 1704.5V1696.0 M398.9 1704.5V1696.0 M404.6 1704.5V1696.0 M409.7 1704.5V1689.0 M443.2 1704.5V1696.0 M462.8 1704.5V1696.0 M476.6 1704.5V1696.0 M487.4 1704.5V1696.0 M496.2 1704.5V1696.0 M503.7 1704.5V1696.0 M510.1 1704.5V1696.0 M515.8 1704.5V1696.0 M520.9 1704.5V1689.0 M554.4 1704.5V1696.0 M574.0 1704.5V1696.0 M587.8 1704.5V1696.0 M598.6 1704.5V1696.0 M607.4 1704.5V1696.0 M614.9 1704.5V1696.0 M621.3 1704.5V1696.0 M627.0 1704.5V1696.0 M632.1 1704.5V1689.0 M665.6 1704.5V1696.0 M685.2 1704.5V1696.0 M699.0 1704.5V1696.0 M709.8 1704.5V1696.0 M718.6 1704.5V1696.0 M726.1 1704.5V1696.0 M732.5 1704.5V1696.0 M738.2 1704.5V1696.0 M743.3 1704.5V1689.0 M776.8 1704.5V1696.0 M796.4 1704.5V1696.0 M810.2 1704.5V1696.0 M821.0 1704.5V1696.0 M829.8 1704.5V1696.0 M837.3 1704.5V1696.0 M843.7 1704.5V1696.0 M849.4 1704.5V1696.0 M854.5 1704.5V1689.0 M888.0 1704.5V1696.0 M907.6 1704.5V1696.0 M921.4 1704.5V1696.0 M932.2 1704.5V1696.0 M941.0 1704.5V1696.0 M948.5 1704.5V1696.0 M954.9 1704.5V1696.0 M960.6 1704.5V1696.0 M965.7 1704.5V1689.0 M999.2 1704.5V1696.0 M1018.8 1704.5V1696.0 M187 800.5H195.7 M187 1634.2H195.7 M187 739.8H203 M187 1563.9H203 M187 679.1H195.7 M187 1493.6H195.7 M187 618.4H203 M187 1423.3H203 M187 557.7H195.7 M187 1353.0H195.7 M187 496.9H203 M187 1282.7H203 M187 436.2H195.7 M187 1212.3H195.7 M187 375.5H203 M187 1142.0H203 M187 314.8H195.7 M187 1071.7H195.7 M187 254.1H203 M187 1001.4H203 M187 193.4H195.7 M187 931.1H195.7 M187 132.7H203 M187 72.0H195.7"/>
</g>
<text transform="translate(106.24,139.98) scale(1.0296,1)" font-size="31.4" fill="#262626">0.25</text>
<text transform="translate(106.24,261.40) scale(1.0280,1)" font-size="31.4" fill="#262626">0.00</text>
<text transform="translate(94.34,382.82) scale(1.0457,1)" font-size="31.4" fill="#262626">-0.25</text>
<text transform="translate(94.34,504.25) scale(1.0443,1)" font-size="31.4" fill="#262626">-0.50</text>
<text transform="translate(94.34,625.67) scale(1.0457,1)" font-size="31.4" fill="#262626">-0.75</text>
<text transform="translate(94.34,747.10) scale(1.0443,1)" font-size="31.4" fill="#262626">-1.00</text>
<text transform="translate(106.24,1008.90) scale(1.0280,1)" font-size="31.4" fill="#262626">0.00</text>
<text transform="translate(95.06,1149.53) scale(1.0355,1)" font-size="31.4" fill="#262626">-0.25</text>
<text transform="translate(95.06,1290.15) scale(1.0341,1)" font-size="31.4" fill="#262626">-0.50</text>
<text transform="translate(95.06,1430.78) scale(1.0355,1)" font-size="31.4" fill="#262626">-0.75</text>
<text transform="translate(95.06,1571.40) scale(1.0341,1)" font-size="31.4" fill="#262626">-1.00</text>
<text transform="translate(273.02,1753.30) scale(0.9688,1)" font-size="32.3" fill="#262626">10</text>
<text transform="translate(307.69,1735.50) scale(0.9587,1)" font-size="19.1" fill="#262626">-9</text>
<text transform="translate(384.22,1753.30) scale(0.9688,1)" font-size="32.3" fill="#262626">10</text>
<text transform="translate(418.89,1735.50) scale(0.9540,1)" font-size="19.1" fill="#262626">-8</text>
<text transform="translate(495.42,1753.30) scale(0.9688,1)" font-size="32.3" fill="#262626">10</text>
<text transform="translate(530.08,1735.50) scale(0.9622,1)" font-size="19.1" fill="#262626">-7</text>
<text transform="translate(606.62,1753.30) scale(0.9688,1)" font-size="32.3" fill="#262626">10</text>
<text transform="translate(641.29,1735.50) scale(0.9546,1)" font-size="19.1" fill="#262626">-6</text>
<text transform="translate(717.82,1753.30) scale(0.9688,1)" font-size="32.3" fill="#262626">10</text>
<text transform="translate(752.49,1735.50) scale(0.9522,1)" font-size="19.1" fill="#262626">-5</text>
<text transform="translate(829.02,1753.30) scale(0.9688,1)" font-size="32.3" fill="#262626">10</text>
<text transform="translate(863.70,1735.50) scale(0.9374,1)" font-size="19.1" fill="#262626">-4</text>
<text transform="translate(940.22,1753.30) scale(0.9688,1)" font-size="32.3" fill="#262626">10</text>
<text transform="translate(974.89,1735.50) scale(0.9546,1)" font-size="19.1" fill="#262626">-3</text>
<text transform="translate(439.73,1818.30) scale(1.0445,1)" font-size="31.5" fill="#262626">Current density (A/cm</text>
<text transform="translate(757.11,1800.60) scale(1.0289,1)" font-size="19.2" fill="#262626">2</text>
<text transform="translate(770.86,1818.30) scale(0.7663,1)" font-size="31.5" fill="#262626">)</text>
<g transform="translate(0,0) rotate(-90)">
<text transform="translate(-946.19,39.20) scale(0.9825,1)" font-size="33.4" fill="#262626">Potential (V</text>
<text transform="translate(-775.41,52.10) scale(0.9289,1)" font-size="21.5" fill="#262626">SCE</text>
<text transform="translate(-732.27,39.20) scale(0.8582,1)" font-size="33.4" fill="#262626">)</text>
</g>
<text transform="translate(193.78,47.20) scale(1.0329,1)" font-size="26.8" fill="#262626">(a)</text>
<text transform="translate(193.68,892.20) scale(1.0329,1)" font-size="26.8" fill="#262626">(b)</text>
<line x1="251.4" y1="51.3" x2="311.3" y2="51.3" stroke="#1e1e1e" stroke-width="2.2"/>
<line x1="251.4" y1="84.9" x2="311.3" y2="84.9" stroke="#999" stroke-width="1.8"/>
<line x1="251.4" y1="117.6" x2="311.3" y2="117.6" stroke="#55c855" stroke-width="2.6"/>
<text transform="translate(319.85,59.70) scale(0.9835,1)" font-size="27.5" fill="#262626">As-received</text>
<text transform="translate(319.79,92.60) scale(0.9777,1)" font-size="27.5" fill="#262626">Normalizing</text>
<text transform="translate(319.45,125.70) scale(0.9826,1)" font-size="27.5" fill="#262626">Annealing</text>
<line x1="248.3" y1="893.5" x2="308.2" y2="893.5" stroke="#2a2a8a" stroke-width="2.2"/>
<line x1="248.3" y1="925.9" x2="308.2" y2="925.9" stroke="#8e8c40" stroke-width="2.2"/>
<line x1="248.3" y1="959.6" x2="308.2" y2="959.6" stroke="#e03040" stroke-width="2.2"/>
<line x1="248.3" y1="992" x2="308.2" y2="992" stroke="#e08a30" stroke-width="2.2"/>
<text transform="translate(318.18,901.20) scale(0.9802,1)" font-size="27.5" fill="#262626">WQ</text>
<text transform="translate(317.02,934.20) scale(0.9810,1)" font-size="27.5" fill="#262626">OQ</text>
<text transform="translate(318.18,967.60) scale(0.9713,1)" font-size="27.5" fill="#262626">WQ + Annealing</text>
<text transform="translate(317.02,1000.20) scale(0.9795,1)" font-size="27.5" fill="#262626">OQ + Annealing</text>
<text transform="translate(306.57,454.30) scale(0.9500,1)" font-size="21.5" font-style="italic" fill="#2a2a2a">E</text>
<text transform="translate(321.68,462.90) scale(1.0666,1)" font-size="11.5" fill="#666">corr</text>
<text transform="translate(348.97,454.30) scale(1.0076,1)" font-size="21" fill="#2a2a2a">= -0.423 V</text>
<text transform="translate(451.95,463.50) scale(1.1519,1)" font-size="10.5" fill="#666">SCE</text>
<text transform="translate(205.67,485.90) scale(0.9500,1)" font-size="21.5" font-style="italic" fill="#2a2a2a">E</text>
<text transform="translate(218.67,495.00) scale(1.0876,1)" font-size="11.5" fill="#666">corr</text>
<text transform="translate(248.16,485.90) scale(1.0159,1)" font-size="21" fill="#2a2a2a">= -0.500 V</text>
<text transform="translate(348.94,495.60) scale(1.1713,1)" font-size="10.5" fill="#666">SCE</text>
<text transform="translate(244.17,557.40) scale(0.9500,1)" font-size="21.5" font-style="italic" fill="#2a2a2a">E</text>
<text transform="translate(257.96,566.50) scale(1.1085,1)" font-size="11.5" fill="#666">corr</text>
<text transform="translate(286.97,557.40) scale(1.0076,1)" font-size="21" fill="#2a2a2a">= -0.561 V</text>
<text transform="translate(388.25,566.70) scale(1.1519,1)" font-size="10.5" fill="#666">SCE</text>
<text transform="translate(378.17,1262.90) scale(0.9500,1)" font-size="21.5" font-style="italic" fill="#2a2a2a">E</text>
<text transform="translate(391.45,1271.50) scale(1.1346,1)" font-size="11.5" fill="#666">corr</text>
<text transform="translate(414.15,1262.90) scale(1.0253,1)" font-size="21" fill="#2a2a2a">= -0.496 V</text>
<text transform="translate(516.66,1271.80) scale(1.1325,1)" font-size="10.5" fill="#666">SCE</text>
<text transform="translate(388.57,1308.90) scale(0.9500,1)" font-size="21.5" font-style="italic" fill="#2a2a2a">E</text>
<text transform="translate(402.37,1317.50) scale(1.0876,1)" font-size="11.5" fill="#666">corr</text>
<text transform="translate(424.14,1308.90) scale(1.0346,1)" font-size="21" fill="#2a2a2a">= -0.504 V</text>
<text transform="translate(527.15,1317.80) scale(1.1471,1)" font-size="10.5" fill="#666">SCE</text>
<text transform="translate(201.17,1331.40) scale(0.9500,1)" font-size="21.5" font-style="italic" fill="#2a2a2a">E</text>
<text transform="translate(215.68,1340.50) scale(1.0719,1)" font-size="11.5" fill="#666">corr</text>
<text transform="translate(237.44,1331.40) scale(1.0315,1)" font-size="21" fill="#2a2a2a">= -0.592 V</text>
<text transform="translate(339.66,1340.30) scale(1.1325,1)" font-size="10.5" fill="#666">SCE</text>
<text transform="translate(225.67,1384.30) scale(0.9500,1)" font-size="21.5" font-style="italic" fill="#2a2a2a">E</text>
<text transform="translate(239.98,1392.90) scale(1.0614,1)" font-size="11.5" fill="#666">corr</text>
<text transform="translate(262.15,1384.30) scale(1.0253,1)" font-size="21" fill="#2a2a2a">= -0.615 V</text>
<text transform="translate(363.78,1393.00) scale(1.0938,1)" font-size="10.5" fill="#666">SCE</text>
</svg></body></html>
